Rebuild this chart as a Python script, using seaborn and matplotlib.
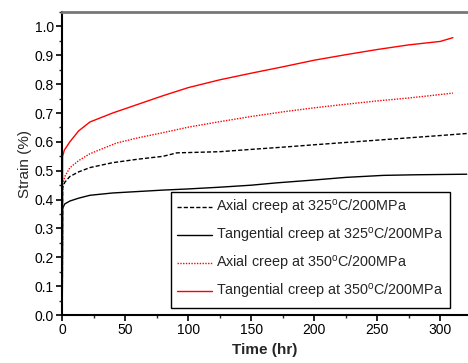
import matplotlib
matplotlib.use("Agg")
import matplotlib.pyplot as plt
import seaborn as sns
import pandas as pd
from matplotlib.ticker import MultipleLocator

sns.set_theme(style="ticks")
plt.rcParams['font.family'] = ['Liberation Sans', 'DejaVu Sans']
plt.rcParams['mathtext.fontset'] = 'custom'
plt.rcParams['mathtext.rm'] = 'Liberation Sans'

# Creep curves (time in hr, strain in %)
axial_325_t = [0, 0.3, 2, 6, 13, 22, 40, 60, 80, 91, 100, 125, 150, 176, 200, 225, 250, 275, 300, 321]
axial_325_s = [0, 0.44, 0.46, 0.48, 0.496, 0.511, 0.528, 0.540, 0.550, 0.562, 0.563, 0.566, 0.574, 0.582, 0.590, 0.598, 0.606, 0.614, 0.622, 0.629]

tang_325_t = [0, 0.3, 2, 6, 13, 22, 40, 60, 80, 100, 125, 150, 170, 200, 225, 255, 280, 300, 321]
tang_325_s = [0, 0.37, 0.385, 0.395, 0.405, 0.415, 0.423, 0.428, 0.433, 0.437, 0.443, 0.450, 0.458, 0.468, 0.477, 0.484, 0.486, 0.487, 0.488]

axial_350_t = [0, 0.3, 2, 6, 13, 22, 43, 60, 80, 100, 125, 150, 175, 200, 218, 250, 275, 300, 310]
axial_350_s = [0, 0.45, 0.48, 0.51, 0.535, 0.559, 0.596, 0.614, 0.632, 0.651, 0.670, 0.688, 0.704, 0.718, 0.727, 0.742, 0.752, 0.764, 0.769]

tang_350_t = [0, 0.3, 1.6, 6, 13, 22, 40, 60, 80, 100, 125, 150, 175, 200, 225, 250, 275, 300, 310]
tang_350_s = [0, 0.55, 0.571, 0.60, 0.638, 0.669, 0.700, 0.730, 0.760, 0.788, 0.815, 0.838, 0.860, 0.883, 0.902, 0.920, 0.936, 0.948, 0.961]

labels = [
    r'Axial creep at 325$^{\mathrm{o}}$C/200MPa',
    r'Tangential creep at 325$^{\mathrm{o}}$C/200MPa',
    r'Axial creep at 350$^{\mathrm{o}}$C/200MPa',
    r'Tangential creep at 350$^{\mathrm{o}}$C/200MPa',
]
series = [
    (axial_325_t, axial_325_s, 'black', (0, (3, 1.5))),
    (tang_325_t, tang_325_s, 'black', '-'),
    (axial_350_t, axial_350_s, '#ff0000', (0, (1, 1))),
    (tang_350_t, tang_350_s, '#ff0000', '-'),
]

fig, ax = plt.subplots(figsize=(4.68, 3.63), dpi=100)
fig.subplots_adjust(left=0.133, right=1.0, bottom=0.132, top=0.967)

for (t, s, c, ls), lab in zip(series, labels):
    df = pd.DataFrame({'t': t, 's': s})
    sns.lineplot(data=df, x='t', y='s', ax=ax, color=c, linestyle=ls,
                 linewidth=1.0, label=lab, estimator=None, sort=False)

ax.set_xlim(0, 322)
ax.set_ylim(0, 1.05)
ax.xaxis.set_major_locator(MultipleLocator(50))
ax.xaxis.set_minor_locator(MultipleLocator(25))
ax.yaxis.set_major_locator(MultipleLocator(0.1))
ax.yaxis.set_minor_locator(MultipleLocator(0.05))
ax.yaxis.set_major_formatter(plt.FormatStrFormatter('%.1f'))
ax.tick_params(which='major', length=4, width=1.2, labelsize=10, pad=2, colors='black')
ax.tick_params(which='minor', length=2.5, width=1.0)

ax.spines['right'].set_visible(False)
ax.spines['top'].set_color('#777777')
ax.spines['top'].set_linewidth(2)
for side in ['left', 'bottom']:
    ax.spines[side].set_linewidth(1.5)
    ax.spines[side].set_color('black')

ax.set_xlabel('Time (hr)', fontsize=11, fontweight='bold', labelpad=4)
ax.set_ylabel('Strain (%)', fontsize=11, labelpad=2)

leg = ax.legend(loc='lower right', bbox_to_anchor=(0.955, 0.025), fontsize=10.4,
                frameon=True, fancybox=False, edgecolor='black', framealpha=1,
                handlelength=2.4, handletextpad=0.3, labelspacing=0.62,
                borderpad=0.45, borderaxespad=0)
leg.get_frame().set_linewidth(1.0)

fig.savefig('out.png', dpi=100)
